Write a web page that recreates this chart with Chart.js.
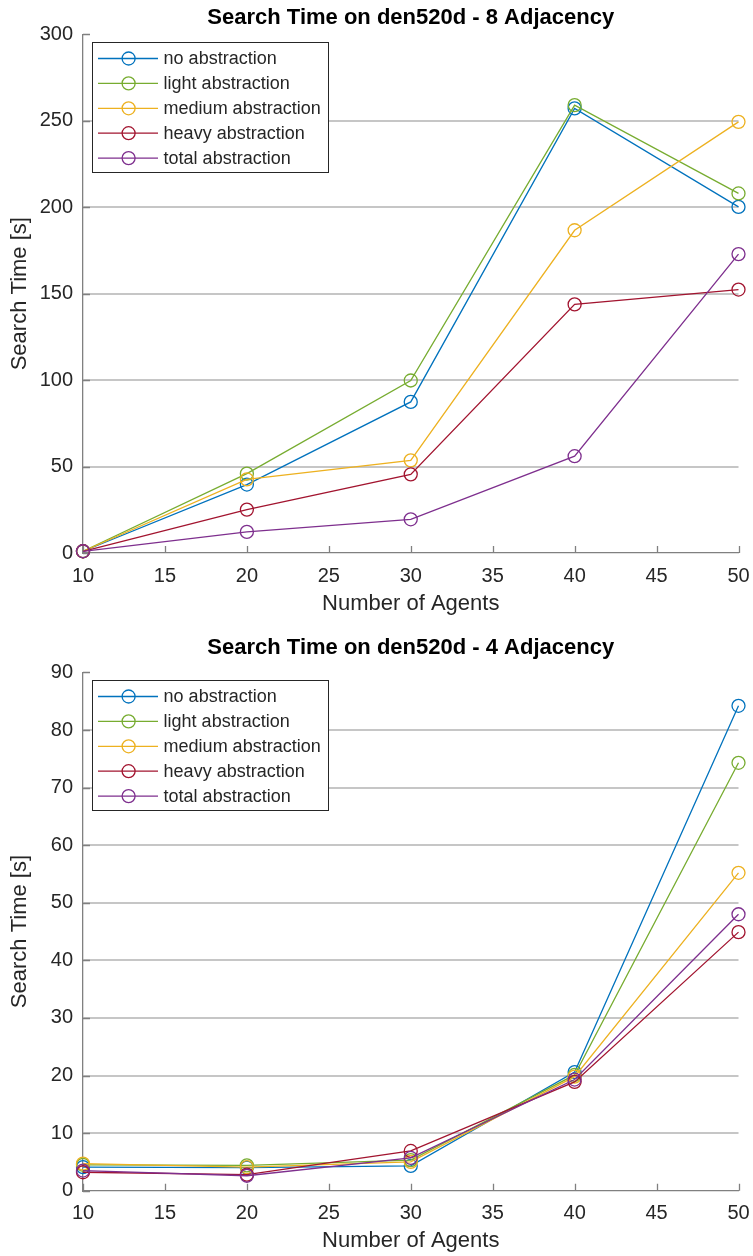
<!DOCTYPE html>
<html>
<head>
<meta charset="utf-8">
<title>Search Time on den520d</title>
<script src="https://cdn.jsdelivr.net/npm/chart.js@4.4.1/dist/chart.umd.min.js"></script>
<style>
    html, body { margin: 0; padding: 0; background: #fff; }
    .panel { position: absolute; left: 0; width: 753px; height: 628px; }
</style>
</head>
<body>
<div class="panel" style="top:0"><canvas id="chart8"></canvas></div>
<div class="panel" style="top:628px"><canvas id="chart4"></canvas></div>
<script>
    const agents = [10, 20, 30, 40, 50];
    const xTicks = [10, 15, 20, 25, 30, 35, 40, 45, 50];
    const seriesNames = ["no abstraction", "light abstraction", "medium abstraction", "heavy abstraction", "total abstraction"];
    const seriesColors = ["#0072BD", "#77AC30", "#EDB120", "#A2142F", "#7E2F8E"];

    // 8 adjacency, search time [s]
    const noAbs8 = [1.0, 39.6, 87.4, 257.2, 200.2];
    const lightAbs8 = [1.0, 45.9, 99.8, 259.1, 208.0];
    const mediumAbs8 = [1.0, 42.6, 53.6, 186.7, 249.4];
    const heavyAbs8 = [1.0, 25.1, 45.5, 143.8, 152.4];
    const totalAbs8 = [1.0, 12.2, 19.5, 56.0, 172.9];
    const yTicks8 = [0, 50, 100, 150, 200, 250, 300];

    // 4 adjacency, search time [s]
    const noAbs4 = [4.1, 4.0, 4.3, 20.6, 84.2];
    const lightAbs4 = [4.5, 4.4, 5.3, 20.1, 74.3];
    const mediumAbs4 = [4.7, 4.1, 5.0, 19.8, 55.2];
    const heavyAbs4 = [3.2, 2.8, 6.9, 18.9, 44.9];
    const totalAbs4 = [3.5, 2.6, 5.7, 19.3, 48.0];
    const yTicks4 = [0, 10, 20, 30, 40, 50, 60, 70, 80, 90];

    const FONT = "'Liberation Sans', Arial, Helvetica, sans-serif";
    const TEXT = "#262626";
    const AXIS = "#808080";
    const GRID = "#c6c6c6";

    Chart.defaults.font.family = FONT;
    Chart.defaults.color = TEXT;

    // title drawn over the plot area centre, like MATLAB does
    const plotTitle = {
        id: "plotTitle",
        afterDraw(chart, args, opts) {
            const { ctx, chartArea } = chart;
            ctx.save();
            ctx.font = `bold 22px ${FONT}`;
            ctx.fillStyle = "#000";
            ctx.textAlign = "center";
            ctx.textBaseline = "middle";
            ctx.fillText(opts.text, (chartArea.left + chartArea.right) / 2, opts.y);
            ctx.restore();
        }
    };

    // inward tick marks on both axes
    const insideTicks = {
        id: "insideTicks",
        beforeDatasetsDraw(chart) {
            const { ctx, chartArea, scales } = chart;
            ctx.save();
            ctx.strokeStyle = AXIS;
            ctx.lineWidth = 1.3;
            ctx.beginPath();
            scales.x.ticks.forEach((t) => {
                const px = Math.round(scales.x.getPixelForValue(t.value)) + 0.5;
                ctx.moveTo(px, chartArea.bottom);
                ctx.lineTo(px, chartArea.bottom - 7);
            });
            scales.y.ticks.forEach((t) => {
                const py = Math.round(scales.y.getPixelForValue(t.value)) + 0.5;
                ctx.moveTo(chartArea.left, py);
                ctx.lineTo(chartArea.left + 7, py);
            });
            ctx.stroke();
            ctx.restore();
        }
    };

    // boxed legend in the top-left corner, line + open circle per series
    const boxLegend = {
        id: "boxLegend",
        afterDraw(chart) {
            const { ctx, chartArea } = chart;
            const left = Math.round(chartArea.left + 9);
            const top = Math.round(chartArea.top + 8);
            const w = 236, h = 130, rowH = 24.9;
            ctx.save();
            ctx.fillStyle = "#fff";
            ctx.fillRect(left, top, w, h);
            ctx.strokeStyle = TEXT;
            ctx.lineWidth = 1;
            ctx.strokeRect(left + 0.5, top + 0.5, w, h);
            ctx.font = `18px ${FONT}`;
            ctx.textBaseline = "middle";
            chart.data.datasets.forEach((ds, i) => {
                const y = top + 16.5 + i * rowH;
                ctx.strokeStyle = ds.borderColor;
                ctx.lineWidth = 1.3;
                ctx.beginPath();
                ctx.moveTo(left + 6, y);
                ctx.lineTo(left + 66, y);
                ctx.stroke();
                ctx.beginPath();
                ctx.arc(left + 36.6, y, 6.5, 0, Math.PI * 2);
                ctx.stroke();
                ctx.fillStyle = TEXT;
                ctx.fillText(ds.label, left + 71.6, y + 1);
            });
            ctx.restore();
        }
    };

    function makeDatasets(seriesList) {
        return seriesList.map((values, i) => ({
            label: seriesNames[i],
            data: agents.map((x, j) => ({ x, y: values[j] })),
            borderColor: seriesColors[i],
            backgroundColor: "transparent",
            borderWidth: 1.3,
            pointRadius: 6.5,
            pointBorderWidth: 1.3,
            pointBackgroundColor: "transparent",
            pointBorderColor: seriesColors[i],
            tension: 0,
            clip: false,
            order: seriesList.length - i
        }));
    }

    function makeChart(canvasId, cfg) {
        const yMax = cfg.yTicks[cfg.yTicks.length - 1];
        return new Chart(document.getElementById(canvasId), {
            type: "line",
            data: { datasets: makeDatasets(cfg.series) },
            plugins: [insideTicks, boxLegend, plotTitle],
            options: {
                responsive: true,
                maintainAspectRatio: false,
                animation: false,
                events: [],
                layout: { padding: { left: 0, right: 14.5, top: cfg.plotTop, bottom: 0 } },
                plugins: {
                    legend: { display: false },
                    tooltip: { enabled: false },
                    title: { display: false },
                    plotTitle: { text: cfg.title, y: cfg.titleY }
                },
                scales: {
                    x: {
                        type: "linear",
                        min: 10,
                        max: 50,
                        afterBuildTicks: (scale) => { scale.ticks = xTicks.map((v) => ({ value: v })); },
                        afterFit: (scale) => {
                            scale.height = cfg.xHeight;
                            scale.paddingLeft = 0;
                            scale.paddingRight = 0;
                        },
                        ticks: { color: TEXT, font: { size: 20 }, padding: 11, maxRotation: 0, autoSkip: false },
                        grid: { display: false, drawTicks: false },
                        border: { display: true, color: AXIS, width: 1.3 },
                        title: { display: true, text: "Number of Agents", color: TEXT, font: { size: 22 }, padding: { top: 0, bottom: cfg.xTitlePad } }
                    },
                    y: {
                        min: 0,
                        max: yMax,
                        afterBuildTicks: (scale) => { scale.ticks = cfg.yTicks.map((v) => ({ value: v })); },
                        afterFit: (scale) => {
                            scale.width = 83;
                            scale.paddingTop = 0;
                            scale.paddingBottom = 0;
                        },
                        ticks: { color: TEXT, font: { size: 20 }, padding: 10 },
                        grid: {
                            drawTicks: false,
                            lineWidth: 2,
                            color: (ctx) => (ctx.tick && (ctx.tick.value === yMax || ctx.tick.value === 0)) ? "rgba(0,0,0,0)" : GRID
                        },
                        border: { display: true, color: AXIS, width: 1.3 },
                        title: { display: true, text: "Search Time [s]", color: TEXT, font: { size: 22 }, padding: { top: 7, bottom: 0 } }
                    }
                }
            }
        });
    }

    makeChart("chart8", {
        title: "Search Time on den520d - 8 Adjacency",
        series: [noAbs8, lightAbs8, mediumAbs8, heavyAbs8, totalAbs8],
        yTicks: yTicks8,
        plotTop: 34.4,
        titleY: 17.5,
        xHeight: 75,
        xTitlePad: 10.5
    });

    makeChart("chart4", {
        title: "Search Time on den520d - 4 Adjacency",
        series: [noAbs4, lightAbs4, mediumAbs4, heavyAbs4, totalAbs4],
        yTicks: yTicks4,
        plotTop: 44.4,
        titleY: 19.5,
        xHeight: 65.3,
        xTitlePad: 1.8
    });
</script>
</body>
</html>
